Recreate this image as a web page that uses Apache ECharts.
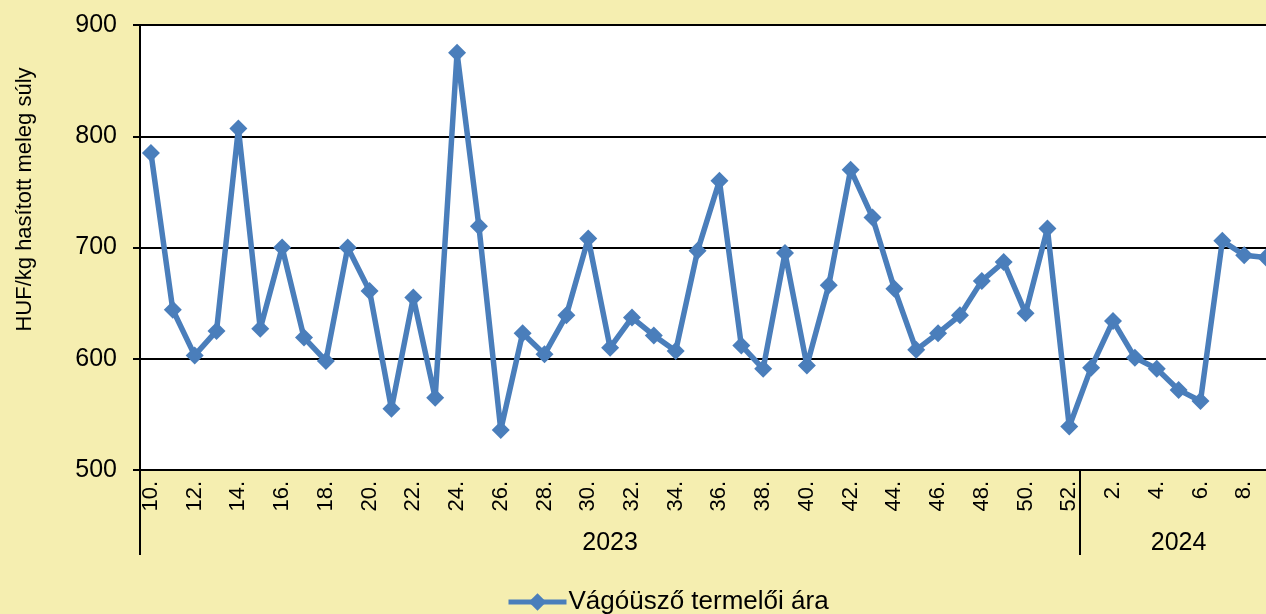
<!DOCTYPE html>
<html>
<head>
<meta charset="utf-8">
<script src="https://cdn.jsdelivr.net/npm/echarts@6/dist/echarts.min.js"></script>
<style>
  html, body { margin: 0; padding: 0; background: #f5eeb0; }
  #main { width: 1266px; height: 614px; }
</style>
</head>
<body>
<div id="main"></div>
<script>
  // hetek (2023: 10.-52., 2024: 1.-9.)
  const weekLabels = [
    '10.', '11.', '12.', '13.', '14.', '15.', '16.', '17.', '18.', '19.',
    '20.', '21.', '22.', '23.', '24.', '25.', '26.', '27.', '28.', '29.',
    '30.', '31.', '32.', '33.', '34.', '35.', '36.', '37.', '38.', '39.',
    '40.', '41.', '42.', '43.', '44.', '45.', '46.', '47.', '48.', '49.',
    '50.', '51.', '52.',
    '1.', '2.', '3.', '4.', '5.', '6.', '7.', '8.', '9.'
  ];
  const yearNames = ['2023', '2024'];
  const yearWeekCounts = [43, 9];

  // Vágóüsző termelői ára, HUF/kg hasított meleg súly
  const prices = [
    785, 644, 603, 625, 807, 627, 700, 619, 598, 700,
    661, 555, 655, 565, 875, 719, 536, 623, 604, 639,
    708, 610, 637, 621, 607, 697, 760, 612, 591, 695,
    594, 666, 770, 727, 663, 608, 623, 639, 670, 687,
    641, 717, 539,
    592, 634, 601, 591, 572, 562, 706, 693, 691
  ];

  const yTicks = [500, 600, 700, 800, 900];

  // melyik évhez tartozik a hét, hol kezdődik és hol van a közepe
  const weekYears = [];
  const yearStarts = [];
  const yearMiddles = [];
  yearNames.forEach(function (y, i) {
    yearStarts.push(weekYears.length);
    yearMiddles.push(weekYears.length + Math.floor((yearWeekCounts[i] - 1) / 2));
    for (let k = 0; k < yearWeekCounts[i]; k++) weekYears.push(y);
  });

  const font = 'Liberation Sans, Arial, sans-serif';
  const blue = '#4a7ebb';

  const myChart = echarts.init(document.getElementById('main'));
  myChart.setOption({
    backgroundColor: '#f5eeb0',
    animation: false,
    textStyle: { fontFamily: font },
    grid: {
      left: 140,
      right: -11,
      top: 25,
      bottom: 144,
      show: true,
      backgroundColor: '#ffffff',
      borderWidth: 0,
      outerBoundsMode: 'none'
    },
    legend: {
      data: ['Vágóüsző termelői ára'],
      left: 501,
      top: 584,
      itemWidth: 58,
      itemHeight: 22,
      lineStyle: { width: 5 },
      textStyle: { fontSize: 26, color: '#000', fontFamily: font, padding: [0, 0, 0, -3] }
    },
    xAxis: [
      {
        type: 'category',
        data: weekLabels,
        boundaryGap: true,
        axisLine: { lineStyle: { color: '#000', width: 2 } },
        axisTick: { show: false },
        axisLabel: {
          interval: 1,
          rotate: 90,
          margin: 11,
          fontSize: 22,
          color: '#000',
          fontFamily: font
        }
      },
      {
        type: 'category',
        data: weekYears,
        position: 'bottom',
        boundaryGap: true,
        axisLine: { show: false },
        axisTick: {
          show: true,
          length: 85,
          interval: function (idx) { return yearStarts.indexOf(idx) >= 0; },
          lineStyle: { color: '#000', width: 2 }
        },
        axisLabel: {
          interval: function (idx) { return yearMiddles.indexOf(idx) >= 0; },
          margin: 61,
          fontSize: 25,
          color: '#000',
          fontFamily: font
        }
      }
    ],
    yAxis: {
      type: 'value',
      min: yTicks[0],
      max: yTicks[yTicks.length - 1],
      interval: 100,
      name: 'HUF/kg hasított meleg súly',
      nameLocation: 'middle',
      nameGap: 104,
      nameTextStyle: { fontSize: 22, color: '#000', fontFamily: font, padding: [0, 0, 0, 96] },
      axisLine: { show: true, lineStyle: { color: '#000', width: 2 } },
      axisTick: { show: true, length: 7, lineStyle: { color: '#000', width: 2 } },
      splitLine: { lineStyle: { color: '#000', width: 2 } },
      axisLabel: { margin: 23, fontSize: 25, color: '#000', fontFamily: font }
    },
    series: [
      {
        name: 'Vágóüsző termelői ára',
        type: 'line',
        xAxisIndex: 0,
        data: prices,
        symbol: 'diamond',
        symbolSize: 18,
        showAllSymbol: true,
        lineStyle: { color: blue, width: 5.5 },
        itemStyle: { color: blue }
      }
    ]
  });
</script>
</body>
</html>
